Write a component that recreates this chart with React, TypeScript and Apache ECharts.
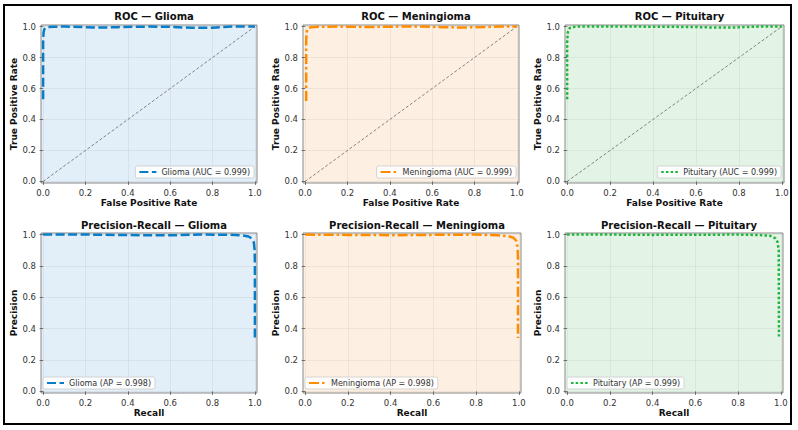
import React, { useEffect, useRef } from "react";
import * as echarts from "echarts";

const classes = ["Glioma", "Meningioma", "Pituitary"];
const colors = ["#0a7cc6", "#ff8c00", "#1fb53a"];
const bgColors = ["#e2eef8", "#fdf0e2", "#e3f4e6"];
const aucValues = ["0.999", "0.999", "0.999"];
const apValues = ["0.998", "0.998", "0.999"];
const tickValues = [0, 0.2, 0.4, 0.6, 0.8, 1.0];
const diagonal = [[0, 0], [1, 1]];

const rocGlioma = [[0, 0.53], [0, 0.9], [0.002, 0.96], [0.005, 0.98], [0.01, 0.99], [0.02, 0.996], [0.05, 0.999], [0.1, 1.0], [0.2, 0.996], [0.25, 0.993], [0.35, 0.996], [0.5, 1.0], [0.6, 0.998], [0.7, 0.992], [0.8, 0.992], [0.85, 0.997], [0.9, 1.0], [1.0, 1.0]];
const rocMeningioma = [[0.005, 0.52], [0.005, 0.9], [0.007, 0.96], [0.01, 0.98], [0.015, 0.99], [0.03, 0.996], [0.06, 0.999], [0.15, 1.0], [0.3, 0.997], [0.45, 1.0], [0.55, 1.0], [0.65, 0.996], [0.75, 0.994], [0.85, 0.997], [0.92, 1.0], [1.0, 1.0]];
const rocPituitary = [[0, 0.53], [0, 0.9], [0.003, 0.96], [0.007, 0.98], [0.012, 0.99], [0.025, 0.997], [0.05, 1.0], [0.3, 1.0], [0.5, 0.998], [0.6, 0.997], [0.7, 0.993], [0.8, 0.995], [0.9, 1.0], [1.0, 1.0]];

const prGlioma = [[0, 1.0], [0.2, 1.0], [0.4, 0.997], [0.6, 0.995], [0.75, 1.0], [0.88, 0.999], [0.94, 0.995], [0.97, 0.988], [0.985, 0.975], [0.995, 0.95], [0.999, 0.9], [1.0, 0.8], [1.0, 0.33]];
const prMeningioma = [[0, 1.0], [0.2, 0.998], [0.4, 0.996], [0.6, 0.998], [0.8, 1.0], [0.9, 0.995], [0.95, 0.99], [0.975, 0.98], [0.988, 0.96], [0.994, 0.92], [0.996, 0.85], [0.996, 0.34]];
const prPituitary = [[0, 1.0], [0.2, 1.0], [0.4, 0.998], [0.6, 0.999], [0.8, 1.0], [0.9, 0.997], [0.95, 0.992], [0.975, 0.975], [0.985, 0.95], [0.99, 0.9], [0.991, 0.35]];

const rocData = [rocGlioma, rocMeningioma, rocPituitary];
const prData = [prGlioma, prMeningioma, prPituitary];
const dashTypes: any[] = [[9, 3.5], [10, 3, 2.5, 3], [2.5, 2.2]];

const FONT = "DejaVu Sans";

// layout
const gridBoxes = [
  { left: 41, top: 25, width: 216, height: 158 },
  { left: 303, top: 25, width: 216, height: 158 },
  { left: 565, top: 25, width: 219, height: 158 },
  { left: 41, top: 233, width: 216, height: 160 },
  { left: 303, top: 233, width: 218, height: 160 },
  { left: 565, top: 233, width: 218, height: 160 },
];

export default function App() {
  const ref = useRef<HTMLDivElement>(null);
  useEffect(() => {
    if (!ref.current) return;
    const chart = echarts.init(ref.current, null, { renderer: "svg" });

    const grids: any[] = [];
    const xAxes: any[] = [];
    const yAxes: any[] = [];
    const series: any[] = [];
    const legends: any[] = [];
    const titles: any[] = [];

    gridBoxes.forEach((g, i) => {
      const isRoc = i < 3;
      const c = i % 3;
      grids.push({
        ...g,
        show: true,
        backgroundColor: bgColors[c],
        borderColor: "#8a8a8a",
        borderWidth: 1,
      });
      const axisCommon = {
        gridIndex: i,
        type: "value",
        min: -0.01,
        max: 1.01,
        axisLine: { show: false },
        axisTick: {
          show: true,
          length: 3.5,
          customValues: tickValues,
          lineStyle: { color: "#555", width: 0.8 },
        },
        axisLabel: {
          customValues: tickValues,
          formatter: (v: number) => v.toFixed(1),
          fontFamily: FONT,
          fontSize: 8.5,
          color: "#333",
        },
        splitLine: { show: true, lineStyle: { color: "rgba(120,120,120,0.13)", width: 0.8 } },
        nameLocation: "middle",
        nameTextStyle: { fontFamily: FONT, fontSize: 9, fontWeight: "bold", color: "#111" },
      };
      xAxes.push({
        ...axisCommon,
        axisLabel: { ...axisCommon.axisLabel, margin: 5 },
        name: isRoc ? "False Positive Rate" : "Recall",
        nameGap: 15,
      });
      yAxes.push({
        ...axisCommon,
        axisLabel: { ...axisCommon.axisLabel, margin: 5 },
        name: isRoc ? "True Positive Rate" : "Precision",
        nameGap: 22,
      });
      titles.push({
        text: (isRoc ? "ROC — " : "Precision-Recall — ") + classes[c],
        left: g.left + g.width / 2,
        textAlign: "center",
        top: isRoc ? 6 : 215,
        textStyle: { fontFamily: FONT, fontSize: 10, fontWeight: "bold", color: "#111" },
      });
      const name = isRoc
        ? `${classes[c]} (AUC = ${aucValues[c]})`
        : `${classes[c]} (AP = ${apValues[c]})`;
      if (isRoc) {
        series.push({
          name: "diag" + i,
          type: "line",
          xAxisIndex: i,
          yAxisIndex: i,
          data: diagonal,
          showSymbol: false,
          symbol: "none",
          lineStyle: { color: "#555", width: 0.7, type: [3, 2] },
          silent: true,
        });
      }
      series.push({
        name,
        type: "line",
        xAxisIndex: i,
        yAxisIndex: i,
        data: isRoc ? rocData[c] : prData[c],
        symbol: "none",
        showSymbol: false,
        color: colors[c],
        lineStyle: { color: colors[c], width: 2.5, type: dashTypes[c], cap: "butt" },
      });
      const legendPos: any = isRoc
        ? { right: 798 - (g.left + g.width) + 3, top: 166 }
        : { left: g.left + 2, top: 377 };
      legends.push({
        ...legendPos,
        data: [name],
        orient: "vertical",
        itemWidth: 17,
        itemHeight: 8,
        padding: [2, 4, 2, 3],
        backgroundColor: "rgba(255,255,255,0.85)",
        borderColor: "#cccccc",
        borderWidth: 0.8,
        borderRadius: 2,
        itemStyle: { opacity: 0, borderWidth: 0 },
        textStyle: { fontFamily: FONT, fontSize: 8, color: "#333" },
        selectedMode: false,
      });
    });

    chart.setOption({
      animation: false,
      backgroundColor: "#fff",
      title: titles,
      grid: grids,
      xAxis: xAxes,
      yAxis: yAxes,
      legend: legends,
      series,
      graphic: [
        {
          type: "rect",
          shape: { x: 4, y: 5, width: 787, height: 419 },
          style: { fill: "none", stroke: "#000", lineWidth: 2 },
          silent: true,
        },
      ],
    });
    return () => chart.dispose();
  }, []);
  return (
    <div
      ref={ref}
      style={{ position: "fixed", left: 0, top: 0, width: 798, height: 430 }}
    />
  );
}
